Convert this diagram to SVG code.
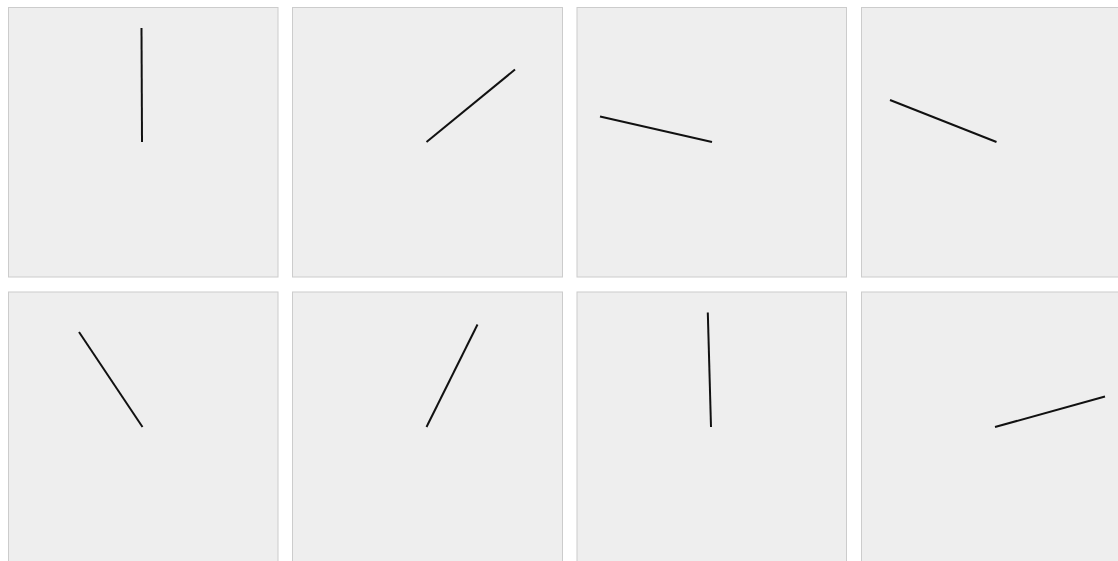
<svg xmlns="http://www.w3.org/2000/svg" width="1118" height="561" viewBox="0 0 1118 561">
<style>
.panel{fill:#eeeeee;stroke:#cccccc;stroke-width:1}
.hand{stroke:#111111;stroke-width:2;fill:none;stroke-linecap:butt}
</style>
<rect width="1118" height="561" fill="#ffffff"/>
<g id="panel1"><rect class="panel" x="8.5" y="7.5" width="269.5" height="269.5"/></g>
<g id="panel2"><rect class="panel" x="292.5" y="7.5" width="270" height="269.5"/></g>
<g id="panel3"><rect class="panel" x="577" y="7.5" width="269.5" height="269.5"/></g>
<g id="panel4"><rect class="panel" x="861.5" y="7.5" width="270" height="269.5"/></g>
<g id="panel5"><rect class="panel" x="8.5" y="292" width="269.5" height="270"/></g>
<g id="panel6"><rect class="panel" x="292.5" y="292" width="270" height="270"/></g>
<g id="panel7"><rect class="panel" x="577" y="292" width="269.5" height="270"/></g>
<g id="panel8"><rect class="panel" x="861.5" y="292" width="270" height="270"/></g>
<g id="connectors">
<line class="hand" x1="142" y1="142" x2="141.5" y2="28"/>
<line class="hand" x1="426.5" y1="142" x2="515" y2="69.5"/>
<line class="hand" x1="712" y1="142" x2="600" y2="116.5"/>
<line class="hand" x1="996.5" y1="142" x2="890" y2="100"/>
<line class="hand" x1="142.5" y1="427" x2="79" y2="332"/>
<line class="hand" x1="426.5" y1="427" x2="477.5" y2="324.5"/>
<line class="hand" x1="711" y1="427" x2="707.8" y2="312.5"/>
<line class="hand" x1="995" y1="427" x2="1105" y2="396.5"/>
</g>
</svg>
